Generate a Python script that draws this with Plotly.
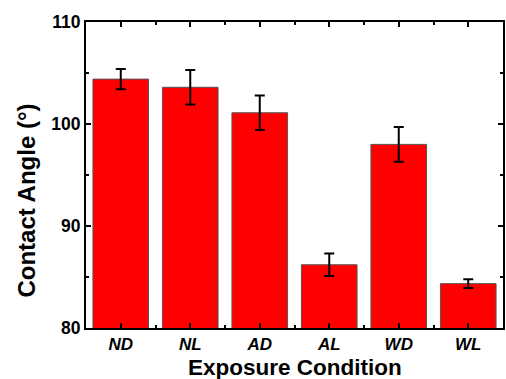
import plotly.graph_objects as go

categories = ["ND", "NL", "AD", "AL", "WD", "WL"]
contact_angle = [104.4, 103.6, 101.1, 86.2, 98.0, 84.35]
error = [1.0, 1.7, 1.7, 1.1, 1.7, 0.43]
y_ticks = [80, 90, 100, 110]

FONT = "Liberation Sans, Arial, sans-serif"
xpos = list(range(len(categories)))

fig = go.Figure(go.Bar(
    x=xpos, y=contact_angle, width=0.8,
    marker=dict(color="#FF0000", line=dict(color="#555555", width=1)),
    error_y=dict(type="data", array=error, visible=True, color="black",
                 thickness=2, width=5),
))

fig.update_layout(
    width=506, height=379,
    margin=dict(l=86, r=1, t=22, b=51),
    plot_bgcolor="white", paper_bgcolor="white",
    showlegend=False,
    font=dict(family=FONT, color="black"),
    xaxis=dict(
        range=[-0.5, 5.5], tickvals=xpos, ticktext=categories,
        ticks="inside", ticklen=5, tickwidth=1.5, tickcolor="black",
        showline=True, linecolor="black", linewidth=2, mirror="ticks",
        showgrid=False, zeroline=False,
        tickfont=dict(family=FONT, size=17, weight="bold", style="italic"),
        minor=dict(tickvals=[0.5, 1.5, 2.5, 3.5, 4.5], ticks="inside",
                   ticklen=3, tickwidth=1.5, tickcolor="black", showgrid=False),
    ),
    yaxis=dict(
        range=[80, 110], tickvals=y_ticks,
        ticks="inside", ticklen=5, tickwidth=1.5, tickcolor="black",
        showline=True, linecolor="black", linewidth=2, mirror="ticks",
        showgrid=False, zeroline=False,
        tickfont=dict(family=FONT, size=17.5, weight="bold"),
        minor=dict(tickvals=[85, 95, 105], ticks="inside",
                   ticklen=3, tickwidth=1.5, tickcolor="black", showgrid=False),
    ),
    annotations=[
        dict(text="Exposure Condition", xref="paper", yref="paper",
             x=0.5, y=-0.1275, xanchor="center", yanchor="middle",
             showarrow=False, font=dict(family=FONT, size=22.5, weight="bold")),
        dict(text="Contact Angle (°)", xref="paper", yref="paper",
             x=-0.145, y=0.415, xanchor="center", yanchor="middle", textangle=-90,
             showarrow=False, font=dict(family=FONT, size=24, weight="bold")),
    ],
)

fig.write_html("out.html")
